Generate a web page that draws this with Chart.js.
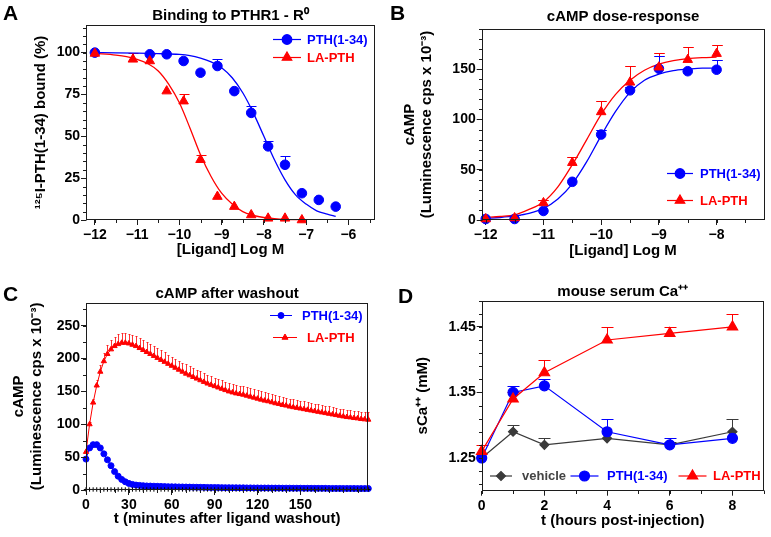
<!DOCTYPE html>
<html>
<head>
<meta charset="utf-8">
<title>PTH / LA-PTH</title>
<script src="https://cdn.jsdelivr.net/npm/chart.js@4.4.1/dist/chart.umd.min.js"></script>
<style>
  body { margin: 0; background: #fff; }
  #fig { position: relative; width: 771px; height: 537px; overflow: hidden; }
  #fig canvas { position: absolute; }
  .tag { position: absolute; font: bold 21px/21px "Liberation Sans", Arial, sans-serif; color: #000; }
</style>
</head>
<body>
<div id="fig">
  <canvas id="chartA" width="385" height="268" style="left:0;top:0"></canvas>
  <canvas id="chartB" width="386" height="268" style="left:385px;top:0"></canvas>
  <canvas id="chartC" width="385" height="269" style="left:0;top:268px"></canvas>
  <canvas id="chartD" width="386" height="269" style="left:385px;top:268px"></canvas>
  <div class="tag" style="left:3px;top:2px">A</div>
  <div class="tag" style="left:390px;top:2px">B</div>
  <div class="tag" style="left:3px;top:283px">C</div>
  <div class="tag" style="left:398px;top:285px">D</div>
</div>
<script>
// ---- A: binding to PTHR1 (R0), % of 125I-PTH(1-34) bound ----
const bindLogPth = [-12, -10.7, -10.3, -9.9, -9.5, -9.1, -8.7, -8.3, -7.9, -7.5, -7.1, -6.7, -6.3];
const bindPth    = [100, 99, 99, 95, 88, 92, 77, 64, 44, 33, 16, 12, 8];
const bindPthErr = [0, 0, 0, 0, 0, 4, 0, 4, 3, 5, 0, 0, 0];
const bindLogLa  = [-12, -11.1, -10.7, -10.3, -9.9, -9.5, -9.1, -8.7, -8.3, -7.9, -7.5, -7.1];
const bindLa     = [99.5, 96, 95, 77, 71, 36, 14, 8, 3, 1, 1, 0];
const bindLaErr  = [0, 4, 4, 0, 4, 3, 0, 0, 0, 0, 0, 0];
// fitted curves
const fitLogPth = [-12, -11.5, -11, -10.5, -10, -9.75, -9.5, -9.25, -9, -8.75, -8.5, -8.25, -8, -7.75, -7.5, -7.25, -7, -6.75, -6.5, -6.3];
const fitPth    = [100, 99.9, 99.7, 99.4, 98.9, 98.2, 96.7, 94.5, 91, 85, 76, 64, 50, 36, 24, 15, 9.5, 5.5, 3.5, 2.2];
const fitLogLa  = [-12, -11.5, -11.25, -11, -10.75, -10.5, -10.25, -10, -9.75, -9.5, -9.25, -9, -8.75, -8.5, -8.25, -8, -7.75, -7.5, -7.1];
const fitLa     = [99.5, 98.5, 97.6, 96, 93.5, 89, 81, 70, 55, 39, 26, 16, 9.5, 5, 2.8, 1.5, 0.8, 0.4, 0.2];
const ticksAx = [-12, -11, -10, -9, -8, -7, -6];
const ticksAy = [0, 25, 50, 75, 100];

// ---- B: cAMP dose-response ----
const doseLog  = [-12, -11.5, -11, -10.5, -10, -9.5, -9, -8.5, -8];
const campPth  = [1, 1, 9, 38, 85, 129, 150.5, 148, 149.5];
const campPthErr = [0, 0, 0, 0, 5, 3, 12.5, 0, 9.5];
const campLa   = [1, 2, 17, 57, 107.5, 137, 152, 159.5, 165.5];
const campLaErr = [0, 3, 3, 6, 11, 16, 14, 12.5, 9];
const fitLogB  = [-12, -11.75, -11.5, -11.25, -11, -10.75, -10.5, -10.25, -10, -9.75, -9.5, -9.25, -9, -8.75, -8.5, -8.25, -8];
const fitBPth  = [1.5, 2.5, 4, 6.5, 11.5, 21, 36, 58, 84, 108, 127, 139, 145, 148.5, 150, 151, 151];
const fitBLa   = [2.5, 3.5, 5, 10.5, 18, 33, 55, 80, 105, 125, 139, 149, 155, 158.5, 160.5, 161.5, 162];
const ticksBx = [-12, -11, -10, -9, -8];
const ticksBy = [0, 50, 100, 150];

// ---- C: cAMP after washout (minutes) ----
const washT = [
  0, 2.5, 5, 7.5, 10, 12.5, 15, 17.5, 20, 22.5,
  25, 27.5, 30, 32.5, 35, 37.5, 40, 42.5, 45, 47.5,
  50, 52.5, 55, 57.5, 60, 62.5, 65, 67.5, 70, 72.5,
  75, 77.5, 80, 82.5, 85, 87.5, 90, 92.5, 95, 97.5,
  100, 102.5, 105, 107.5, 110, 112.5, 115, 117.5, 120, 122.5,
  125, 127.5, 130, 132.5, 135, 137.5, 140, 142.5, 145, 147.5,
  150, 152.5, 155, 157.5, 160, 162.5, 165, 167.5, 170, 172.5,
  175, 177.5, 180, 182.5, 185, 187.5, 190, 192.5, 195, 197.5];
const washLa = [
  58, 100, 133, 159, 180, 196, 207, 214, 219, 222,
  224, 224, 223, 221, 219, 216, 213, 210, 207, 204,
  201, 198, 195, 192, 189, 186, 183, 180, 177, 174.5,
  172, 169.5, 167, 164.5, 162, 160, 158, 156, 154, 152,
  150, 148.5, 147, 146, 145, 143.5, 142, 140.5, 139, 137.5,
  136, 135, 133.5, 132, 131, 129.5, 128.5, 127, 126, 125,
  124, 123, 122, 121, 120, 119, 118, 117, 116, 115,
  114, 113, 112, 111, 110.5, 109.5, 109, 108, 107.5, 107];
const washLaErr = [
  2, 4, 6, 8, 10, 12, 13, 14, 14, 15,
  15, 15, 15, 15, 15, 15, 15, 15, 15, 14.5,
  14.5, 14.5, 14.5, 14, 14, 14, 14, 14, 14, 14,
  13.5, 13.5, 13.5, 13.5, 13.5, 13.5, 13, 13, 13, 13,
  13, 13, 13, 13, 12.5, 12.5, 12.5, 12.5, 12.5, 12.5,
  12.5, 12.5, 12, 12, 12, 12, 12, 12, 12, 12,
  12, 12, 11.5, 11.5, 11.5, 11.5, 11.5, 11.5, 11.5, 11.5,
  11, 11, 11, 11, 11, 11, 11, 11, 11, 11];
const washPth = [
  47, 64, 69, 69, 64, 55, 46, 37, 28, 21,
  16, 12.5, 10, 8.5, 7.5, 7, 6.5, 6.2, 6, 5.8,
  5.6, 5.4, 5.2, 5, 4.9, 4.8, 4.7, 4.6, 4.5, 4.4,
  4.3, 4.2, 4.1, 4, 3.9, 3.8, 3.8, 3.7, 3.6, 3.5,
  3.5, 3.4, 3.4, 3.3, 3.3, 3.2, 3.2, 3.1, 3.1, 3,
  3, 3, 2.9, 2.9, 2.9, 2.8, 2.8, 2.8, 2.7, 2.7,
  2.7, 2.6, 2.6, 2.6, 2.5, 2.5, 2.5, 2.5, 2.4, 2.4,
  2.4, 2.4, 2.3, 2.3, 2.3, 2.3, 2.2, 2.2, 2.2, 2.2];
const washVeh = [
  0.8, 0.8, 0.8, 0.8, 0.8, 0.8, 0.8, 0.8, 0.8, 0.8,
  0.8, 0.8, 0.8, 0.8, 0.8, 0.8, 0.8, 0.8, 0.8, 0.8,
  0.8, 0.8, 0.8, 0.8, 0.8, 0.8, 0.8, 0.8, 0.8, 0.8,
  0.8, 0.8, 0.8, 0.8, 0.8, 0.8, 0.8, 0.8, 0.8, 0.8,
  0.8, 0.8, 0.8, 0.8, 0.8, 0.8, 0.8, 0.8, 0.8, 0.8,
  0.8, 0.8, 0.8, 0.8, 0.8, 0.8, 0.8, 0.8, 0.8, 0.8,
  0.8, 0.8, 0.8, 0.8, 0.8, 0.8, 0.8, 0.8, 0.8, 0.8,
  0.8, 0.8, 0.8, 0.8, 0.8, 0.8, 0.8, 0.8, 0.8, 0.8];
const ticksCx = [0, 30, 60, 90, 120, 150];
const ticksCy = [0, 50, 100, 150, 200, 250];

// ---- D: mouse serum Ca++ (mM) ----
const hours   = [0, 1, 2, 4, 6, 8];
const caVeh   = [1.25, 1.29, 1.27, 1.28, 1.27, 1.29];
const caVehErr = [0, 0.01, 0.01, 0, 0.005, 0.02];
const caPth   = [1.25, 1.35, 1.36, 1.29, 1.27, 1.28];
const caPthErr = [0, 0.01, 0.01, 0.02, 0.01, 0];
const caLa    = [1.26, 1.34, 1.38, 1.43, 1.44, 1.45];
const caLaErr = [0.01, 0.01, 0.02, 0.02, 0.01, 0.02];
const ticksDx = [0, 2, 4, 6, 8];
const ticksDy = [1.25, 1.35, 1.45];

// ---- shared styling ----
const ink = '#1c1c1c';
const blue = '#0000ff';
const red = '#ff0000';
const vehGrey = '#3a3a3a';
const FAMILY = '"Liberation Sans", Arial, Helvetica, sans-serif';
Chart.defaults.font.family = FAMILY;
Chart.defaults.color = '#000';

const pairs = (xs, ys) => xs.map((x, i) => ({ x: x, y: ys[i] }));
const fmt = digits => v => (v < 0 ? '\u2212' : '') + Math.abs(v).toFixed(digits);

function linearAxis(cfg) {
    const left = cfg.position === 'left';
    return {
        type: 'linear',
        position: cfg.position,
        min: cfg.min,
        max: cfg.max,
        afterBuildTicks: s => { s.ticks = cfg.ticks.map(v => ({ value: v })); },
        afterFit: s => { if (left) s.width = cfg.size; else s.height = cfg.size; },
        grid: { drawOnChartArea: false, drawTicks: true, tickLength: 5, color: ink, lineWidth: 1 },
        border: { display: false },
        ticks: {
            font: { size: 14, weight: 'bold' },
            color: '#000',
            padding: left ? 1 : 2,
            maxRotation: 0,
            callback: fmt(cfg.digits || 0)
        },
        title: {
            display: true,
            text: cfg.title,
            color: '#000',
            font: { size: 15, weight: 'bold', lineHeight: 1.15 },
            padding: cfg.titlePad
        }
    };
}

function panelTitle(text, top, bottom) {
    return {
        display: true, text: text, fullSize: false, color: '#000',
        font: { size: 15, weight: 'bold', lineHeight: 1.2 },
        padding: { top: top, bottom: bottom }
    };
}

// box round the plot area plus the small minor ticks
function framePlugin(minor) {
    return {
        id: 'frame',
        afterDraw(chart) {
            const { ctx, chartArea: a, scales: { x, y } } = chart;
            const L = Math.round(a.left) + 0.5, R = Math.round(a.right) - 0.5;
            const T = Math.round(a.top) + 0.5, B = Math.round(a.bottom) - 0.5;
            ctx.save();
            ctx.strokeStyle = ink;
            ctx.lineWidth = 1;
            ctx.strokeRect(L, T, R - L, B - T);
            ctx.beginPath();
            const x0 = minor.x0 || 0, y0 = minor.y0 || 0;
            for (let k = Math.ceil((x.min - x0) / minor.x - 1e-6); x0 + k * minor.x <= x.max + 1e-6; k++) {
                const px = Math.round(x.getPixelForValue(x0 + k * minor.x)) + 0.5;
                ctx.moveTo(px, B); ctx.lineTo(px, B + 3.5);
            }
            for (let k = Math.ceil((y.min - y0) / minor.y - 1e-6); y0 + k * minor.y <= y.max + 1e-6; k++) {
                const py = Math.round(y.getPixelForValue(y0 + k * minor.y)) + 0.5;
                ctx.moveTo(L, py); ctx.lineTo(L - 3.5, py);
            }
            ctx.stroke();
            ctx.restore();
        }
    };
}

// upward error bars (mean + SEM), drawn under the markers
function errorBars(cap, width) {
    return {
        id: 'errorBars',
        beforeDatasetsDraw(chart) {
            const { ctx, scales: { x, y } } = chart;
            ctx.save();
            ctx.lineWidth = width;
            chart.data.datasets.forEach(ds => {
                if (!ds.errUp) return;
                ctx.strokeStyle = ds.errColor || ds.borderColor;
                ctx.beginPath();
                ds.data.forEach((p, i) => {
                    const e = ds.errUp[i];
                    if (!e) return;
                    const px = Math.round(x.getPixelForValue(p.x)) + 0.5;
                    const py = y.getPixelForValue(p.y);
                    const top = Math.round(y.getPixelForValue(p.y + e)) + 0.5;
                    ctx.moveTo(px, py); ctx.lineTo(px, top);
                    ctx.moveTo(px - cap, top); ctx.lineTo(px + cap, top);
                });
                ctx.stroke();
            });
            ctx.restore();
        }
    };
}

function drawMarker(ctx, style, x, y, r, color) {
    ctx.fillStyle = color;
    ctx.strokeStyle = color;
    if (Chart.helpers && Chart.helpers.drawPoint) {
        Chart.helpers.drawPoint(ctx, { pointStyle: style, radius: r, rotation: 0, borderWidth: 1 }, x, y);
    } else {
        ctx.beginPath(); ctx.arc(x, y, r, 0, Math.PI * 2); ctx.fill();
    }
}

// hand placed legend, like the original figure
function keyPlugin(items) {
    return {
        id: 'key',
        afterDraw(chart) {
            const ctx = chart.ctx;
            ctx.save();
            ctx.font = 'bold 13px ' + FAMILY;
            ctx.textBaseline = 'middle';
            ctx.textAlign = 'left';
            items.forEach(it => {
                ctx.strokeStyle = it.color;
                ctx.lineWidth = it.lw || 1.2;
                ctx.beginPath();
                ctx.moveTo(it.x - it.half, it.y + 0.5);
                ctx.lineTo(it.x + it.half, it.y + 0.5);
                ctx.stroke();
                drawMarker(ctx, it.style, it.x, it.y + 0.5, it.r, it.color);
                ctx.fillStyle = it.textColor || it.color;
                ctx.fillText(it.text, it.textX, it.y + 1);
            });
            ctx.restore();
        }
    };
}

function baseOptions(title, pad, scales) {
    return {
        responsive: false,
        animation: false,
        events: [],
        layout: { padding: pad },
        plugins: { legend: { display: false }, tooltip: { enabled: false }, title: title },
        scales: scales
    };
}

// ---------- A ----------
new Chart(document.getElementById('chartA'), {
    type: 'scatter',
    data: {
        datasets: [
            { label: 'LA-PTH', data: pairs(bindLogLa, bindLa), errUp: bindLaErr, pointStyle: 'triangle', pointRadius: 5.5,
              backgroundColor: red, borderColor: red, borderWidth: 1, clip: false, order: 0 },
            { label: 'PTH(1-34)', data: pairs(bindLogPth, bindPth), errUp: bindPthErr, pointStyle: 'circle', pointRadius: 4.8,
              backgroundColor: blue, borderColor: blue, borderWidth: 1, clip: false, order: 1 },
            { label: 'LA-PTH fit', data: pairs(fitLogLa, fitLa), showLine: true, pointRadius: 0, borderColor: red,
              borderWidth: 1.3, cubicInterpolationMode: 'monotone', clip: false, order: 2 },
            { label: 'PTH(1-34) fit', data: pairs(fitLogPth, fitPth), showLine: true, pointRadius: 0, borderColor: blue,
              borderWidth: 1.3, cubicInterpolationMode: 'monotone', clip: false, order: 3 }
        ]
    },
    options: baseOptions(panelTitle('Binding to PTHR1 - R\u2070', 6.5, 0.5), { left: 0, right: 10, top: 0, bottom: 0 }, {
        x: linearAxis({ position: 'bottom', min: -12.21, max: -5.37, ticks: ticksAx, size: 48,
                        title: '[Ligand] Log M', titlePad: { top: 0, bottom: 9.4 } }),
        y: linearAxis({ position: 'left', min: 0, max: 116.5, ticks: ticksAy, size: 86,
                        title: '\u00b9\u00b2\u2075I-PTH(1-34) bound (%)', titlePad: { top: 32, bottom: 0 } })
    }),
    plugins: [
        framePlugin({ x: 0.5, y: 5 }),
        errorBars(5, 1),
        keyPlugin([
            { text: 'PTH(1-34)', color: blue, style: 'circle', r: 4.8, x: 287, half: 14, y: 39, textX: 307 },
            { text: 'LA-PTH', color: red, style: 'triangle', r: 5.5, x: 287, half: 14, y: 57, textX: 307 }
        ])
    ]
});

// ---------- B ----------
new Chart(document.getElementById('chartB'), {
    type: 'scatter',
    data: {
        datasets: [
            { label: 'LA-PTH', data: pairs(doseLog, campLa), errUp: campLaErr, pointStyle: 'triangle', pointRadius: 5.5,
              backgroundColor: red, borderColor: red, borderWidth: 1, clip: false, order: 0 },
            { label: 'PTH(1-34)', data: pairs(doseLog, campPth), errUp: campPthErr, pointStyle: 'circle', pointRadius: 4.8,
              backgroundColor: blue, borderColor: blue, borderWidth: 1, clip: false, order: 1 },
            { label: 'LA-PTH fit', data: pairs(fitLogB, fitBLa), showLine: true, pointRadius: 0, borderColor: red,
              borderWidth: 1.3, cubicInterpolationMode: 'monotone', clip: false, order: 2 },
            { label: 'PTH(1-34) fit', data: pairs(fitLogB, fitBPth), showLine: true, pointRadius: 0, borderColor: blue,
              borderWidth: 1.3, cubicInterpolationMode: 'monotone', clip: false, order: 3 }
        ]
    },
    options: baseOptions(panelTitle('cAMP dose-response', 8, 3), { left: 0, right: 3.3, top: 0, bottom: 0 }, {
        x: linearAxis({ position: 'bottom', min: -12.07, max: -7.17, ticks: ticksBx, size: 48,
                        title: '[Ligand] Log M', titlePad: { top: 0, bottom: 8.4 } }),
        y: linearAxis({ position: 'left', min: 0, max: 190, ticks: ticksBy, size: 96.7,
                        title: ['cAMP', '(Luminescence cps x 10\u207b\u00b3)'], titlePad: { top: 16, bottom: 0 } })
    }),
    plugins: [
        framePlugin({ x: 0.5, y: 10 }),
        errorBars(5.3, 1),
        keyPlugin([
            { text: 'PTH(1-34)', color: blue, style: 'circle', r: 4.8, x: 295, half: 13, y: 173, textX: 315 },
            { text: 'LA-PTH', color: red, style: 'triangle', r: 5.5, x: 295, half: 13, y: 200, textX: 315 }
        ])
    ]
});

// ---------- C ----------
new Chart(document.getElementById('chartC'), {
    type: 'scatter',
    data: {
        datasets: [
            { label: 'vehicle', data: pairs(washT, washVeh), showLine: true, pointStyle: 'cross', pointRadius: 2.2,
              borderColor: '#000', backgroundColor: '#000', borderWidth: 1, clip: false, order: 0 },
            { label: 'LA-PTH', data: pairs(washT, washLa), errUp: washLaErr, errColor: 'rgba(255,0,0,0.8)', showLine: true,
              pointStyle: 'triangle', pointRadius: 3, backgroundColor: red, borderColor: red, borderWidth: 1, clip: false, order: 1 },
            { label: 'PTH(1-34)', data: pairs(washT, washPth), showLine: true, pointStyle: 'circle', pointRadius: 3,
              backgroundColor: blue, borderColor: blue, borderWidth: 1, clip: false, order: 2 }
        ]
    },
    options: baseOptions(panelTitle('cAMP after washout', 16.7, 0), { left: 0, right: 16.7, top: 0, bottom: 0 }, {
        x: linearAxis({ position: 'bottom', min: 0, max: 197.5, ticks: ticksCx, size: 47,
                        title: 't (minutes after ligand washout)', titlePad: { top: 0, bottom: 9.7 } }),
        y: linearAxis({ position: 'left', min: 0, max: 285, ticks: ticksCy, size: 86,
                        title: ['cAMP', '(Luminescence cps x 10\u207b\u00b3)'], titlePad: { top: 10.5, bottom: 0 } })
    }),
    plugins: [
        framePlugin({ x: 10, y: 25 }),
        errorBars(1, 1),
        keyPlugin([
            { text: 'PTH(1-34)', color: blue, style: 'circle', r: 3, x: 281, half: 11, y: 47, textX: 302, lw: 1 },
            { text: 'LA-PTH', color: red, style: 'triangle', r: 3.5, x: 285, half: 12, y: 69, textX: 307, lw: 1 }
        ])
    ]
});

// ---------- D ----------
new Chart(document.getElementById('chartD'), {
    type: 'scatter',
    data: {
        datasets: [
            { label: 'LA-PTH', data: pairs(hours, caLa), errUp: caLaErr, showLine: true, pointStyle: 'triangle', pointRadius: 6,
              backgroundColor: red, borderColor: red, borderWidth: 1.2, clip: false, order: 0 },
            { label: 'PTH(1-34)', data: pairs(hours, caPth), errUp: caPthErr, showLine: true, pointStyle: 'circle', pointRadius: 5,
              backgroundColor: blue, borderColor: blue, borderWidth: 1.2, clip: false, order: 1 },
            { label: 'vehicle', data: pairs(hours, caVeh), errUp: caVehErr, showLine: true, pointStyle: 'rectRot', pointRadius: 4.5,
              backgroundColor: vehGrey, borderColor: vehGrey, borderWidth: 1.2, clip: false, order: 2 }
        ]
    },
    options: baseOptions(panelTitle('mouse serum Ca\u207a\u207a', 14.7, 0), { left: 0, right: 4.3, top: 0, bottom: 0 }, {
        x: linearAxis({ position: 'bottom', min: 0, max: 9, ticks: ticksDx, size: 46.3,
                        title: 't (hours post-injection)', titlePad: { top: 0, bottom: 8 } }),
        y: linearAxis({ position: 'left', min: 1.2, max: 1.49, ticks: ticksDy, size: 96.7, digits: 2,
                        title: 'sCa\u207a\u207a (mM)', titlePad: { top: 29.7, bottom: 0 } })
    }),
    plugins: [
        framePlugin({ x: 1, y: 0.02, y0: 1.25 }),
        errorBars(6, 1),
        keyPlugin([
            { text: 'vehicle', color: vehGrey, textColor: '#444', style: 'rectRot', r: 4.5, x: 116, half: 11, y: 207.5, textX: 137 },
            { text: 'PTH(1-34)', color: blue, style: 'circle', r: 5, x: 199.5, half: 14, y: 207.5, textX: 222 },
            { text: 'LA-PTH', color: red, style: 'triangle', r: 6, x: 307.5, half: 14, y: 207.5, textX: 328 }
        ])
    ]
});
</script>
</body>
</html>
